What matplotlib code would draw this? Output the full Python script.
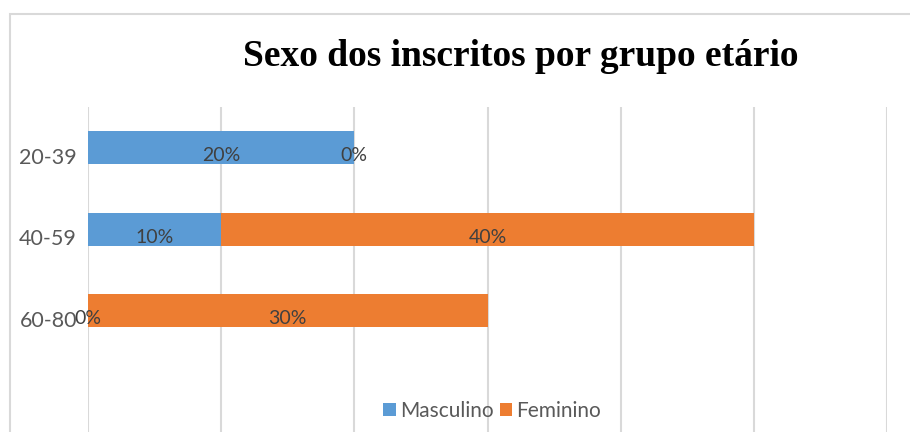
import matplotlib
matplotlib.use("Agg")
import matplotlib.pyplot as plt
from matplotlib.transforms import ScaledTranslation
from matplotlib.patches import Rectangle
import numpy as np

categories = ["20-39", "40-59", "60-80"]
masculino = [20, 10, 0]
feminino = [0, 40, 30]
series_names = ["Masculino", "Feminino"]
title = "Sexo dos inscritos por grupo etário"

W, H = 910, 432
fig = plt.figure(figsize=(W / 100, H / 100), dpi=100)

# chart border (left/top visible)
fig.patches.append(Rectangle((10 / W, -0.1), 1.2, 1 - 14 / H + 0.1, transform=fig.transFigure,
                             fill=False, edgecolor="#d9d9d9", linewidth=1.5))

left, right = 88 / W, 887 / W
top, bottom = 1 - 107 / H, 0.0
ax = fig.add_axes([left, bottom, right - left, top - bottom])

blue = "#5B9BD5"
orange = "#ED7D31"
y = np.arange(len(categories))
bh = 0.405
b1 = ax.barh(y, masculino, height=bh, color=blue, label=series_names[0], zorder=3)
b2 = ax.barh(y, feminino, left=masculino, height=bh, color=orange, label=series_names[1], zorder=3)

ax.set_xlim(0, 60)
ax.set_ylim(3.49, -0.5)
ax.set_xticks(np.arange(0, 61, 10))
ax.xaxis.grid(True, color="#d9d9d9", linewidth=1.5, zorder=0)
ax.tick_params(axis="x", length=0, labelbottom=False)
ax.tick_params(axis="y", length=0, pad=8, labelsize=15.5, labelcolor="#595959")
for s in ax.spines.values():
    s.set_visible(False)
ax.set_yticks(y)
ax.set_yticklabels(categories, family="Lato")
off = ScaledTranslation(0, -8 / 100, fig.dpi_scale_trans)
for lab in ax.get_yticklabels():
    lab.set_transform(lab.get_transform() + off)

for i in range(len(categories)):
    m, f = masculino[i], feminino[i]
    ax.annotate(f"{m}%", (m / 2, i), xytext=(0, -5.8), textcoords="offset points",
                ha="center", va="center", fontsize=14, color="#404040", family="Lato", zorder=5)
    ax.annotate(f"{f}%", (m + f / 2, i), xytext=(0, -5.8), textcoords="offset points",
                ha="center", va="center", fontsize=14, color="#404040", family="Lato", zorder=5)

fig.text(521 / W, 1 - 66 / H, title, ha="center", va="baseline", fontsize=27,
         fontweight="bold", family="Liberation Serif", color="black")

leg = fig.legend(handles=[b1, b2], labels=series_names, loc="center", bbox_to_anchor=(492 / W, 1 - 411 / H),
                 ncol=2, frameon=False, handlelength=0.6, handleheight=0.6, handletextpad=0.2,
                 columnspacing=0.3, prop={"family": "Lato", "size": 15}, labelcolor="#595959")

fig.savefig("out.png", dpi=100)
